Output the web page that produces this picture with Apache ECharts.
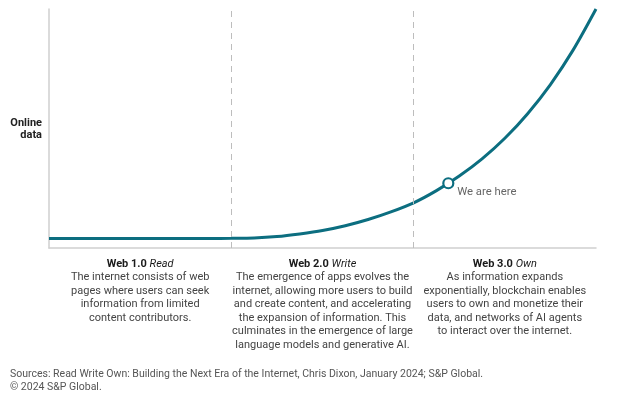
<!DOCTYPE html>
<html>
<head>
<meta charset="utf-8">
<script src="https://cdn.jsdelivr.net/npm/echarts@6/dist/echarts.min.js"></script>
<style>html,body{margin:0;padding:0;background:#fff}#c{width:625px;height:401px}</style>
</head>
<body>
<div id="c"></div>
<script>
// Era position on x (0..3), online data index (0..100)
const curveX = [0, 0.5, 0.875, 1.0, 1.125, 1.25, 1.375, 1.5, 1.625, 1.75, 1.875, 2.0, 2.125, 2.25, 2.375, 2.5, 2.625, 2.75, 2.875, 3.0];
const curveY = [4.0, 4.0, 4.0, 4.05, 4.2, 4.8, 5.9, 7.3, 9.3, 11.9, 15.1, 18.9, 24.0, 30.1, 37.3, 45.9, 56.2, 68.4, 82.9, 100];
const herePoint = [2.19, 27.1];
const hereLabel = 'We are here';
const eraBoundaries = [1, 2];
const eraNames = ['Web 1.0', 'Web 2.0', 'Web 3.0'];
const eraVerbs = ['Read', 'Write', 'Own'];
const eraDescriptions = [
  ['The internet consists of web', 'pages where users can seek', 'information from limited', 'content contributors.'],
  ['The emergence of apps evolves the', 'internet, allowing more users to build', 'and create content, and accelerating', 'the expansion of information. This', 'culminates in the emergence of large', 'language models and generative AI.'],
  ['As information expands', 'exponentially, blockchain enables', 'users to own and monetize their', 'data, and networks of AI agents', 'to interact over the internet.']
];
const yAxisTitle = ['Online', 'data'];
const sourceLines = ['Sources: Read Write Own: Building the Next Era of the Internet, Chris Dixon, January 2024; S&P Global.', '\u00a9 2024 S&P Global.'];

const TEAL = '#0c6e80';
const FONT = 'Roboto, "Liberation Sans", sans-serif';
const chart = echarts.init(document.getElementById('c'), null, {renderer: 'canvas'});

const gridLeft = 49, gridRight = 29, gridTop = 9, gridBottom = 153;
const W = 625;
const plotW = W - gridLeft - gridRight;

const graphics = [];
graphics.push({
  type: 'text', x: 42, y: 117.5,
  style: {text: yAxisTitle.join('\n'), font: 'bold 11px ' + FONT, fill: '#222', align: 'right', lineHeight: 12}
});
eraNames.forEach((n, i) => {
  const cx = gridLeft + plotW * (i + 0.5) / 3;
  graphics.push({
    type: 'text', x: cx, y: 258.5,
    style: {
      text: '{b|' + n + ' }{i|' + eraVerbs[i] + '}',
      align: 'center',
      rich: {
        b: {font: 'bold 11px ' + FONT, fill: '#1a1a1a'},
        i: {font: 'italic 11px ' + FONT, fill: '#1a1a1a'}
      }
    }
  });
  graphics.push({
    type: 'text', x: cx, y: 270.5,
    style: {text: eraDescriptions[i].join('\n'), font: '11px ' + FONT, fill: '#444', align: 'center', lineHeight: 13.6}
  });
});
graphics.push({
  type: 'text', x: 10, y: 368,
  style: {text: sourceLines.join('\n'), font: '10.5px ' + FONT, fill: '#555', align: 'left', lineHeight: 13}
});

chart.setOption({
  animation: false,
  grid: {left: gridLeft, right: gridRight, top: gridTop, bottom: gridBottom},
  xAxis: {
    type: 'value', min: 0, max: 3, interval: 1,
    axisLine: {show: true, lineStyle: {color: '#cfcfcf', width: 1.5}},
    axisTick: {show: false}, axisLabel: {show: false}, splitLine: {show: false}
  },
  yAxis: {
    type: 'value', min: 0, max: 100,
    axisLine: {show: true, lineStyle: {color: '#cfcfcf', width: 1.5}},
    axisTick: {show: false}, axisLabel: {show: false}, splitLine: {show: false}
  },
  graphic: graphics,
  series: [
    {
      type: 'line', smooth: 0.3, showSymbol: false, silent: true,
      data: curveX.map((x, i) => [x, curveY[i]]),
      lineStyle: {color: TEAL, width: 3},
      markLine: {
        silent: true, symbol: ['none', 'none'], label: {show: false},
        lineStyle: {color: '#bdbdbd', type: [6, 5], width: 1},
        data: eraBoundaries.map(b => ({xAxis: b}))
      },
      z: 3
    },
    {
      type: 'scatter', data: [herePoint], symbol: 'circle', symbolSize: 10, silent: true,
      itemStyle: {color: '#fff', borderColor: TEAL, borderWidth: 2.2, opacity: 1},
      label: {
        show: true, formatter: hereLabel, position: [15, 15], align: 'left', verticalAlign: 'middle',
        fontFamily: FONT, fontSize: 11.3, color: '#666'
      },
      z: 5
    }
  ]
});
</script>
</body>
</html>
